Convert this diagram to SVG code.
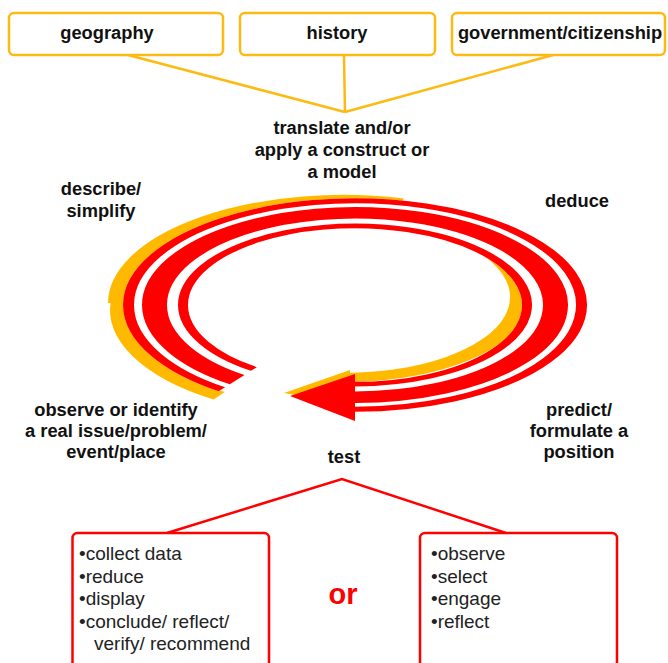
<svg xmlns="http://www.w3.org/2000/svg" width="668" height="663" viewBox="0 0 668 663">
<style>
.lbl{font-family:"Liberation Sans",Arial,sans-serif;font-weight:bold;font-size:18.3px;fill:#111;text-anchor:middle}
.item{font-family:"Liberation Sans",Arial,sans-serif;font-size:19px;fill:#222}
.boxy{fill:#fff;stroke:#FDBA12;stroke-width:2.5}
.boxr{fill:#fff;stroke:#FF0000;stroke-width:2.5}
.yl{stroke:#FDBA12;stroke-width:2.5;fill:none}
.rl{stroke:#FF0000;stroke-width:2.5;fill:none}
.shadow{fill:none;stroke:#FFBA00;stroke-width:20}
.red{fill:none;stroke:#FF0000}
</style>
<rect width="668" height="663" fill="#fff"/>

<g id="connectors">
  <line x1="128" y1="55" x2="345" y2="112" class="yl"/>
  <line x1="344" y1="55" x2="345" y2="112" class="yl"/>
  <line x1="553" y1="55" x2="345" y2="112" class="yl"/>
  <polyline points="167,533 342,479 506,533" class="rl"/>
</g>

<g id="geography">
  <rect x="9" y="13" width="214" height="42" rx="5" class="boxy"/>
  <text x="107" y="39" class="lbl">geography</text>
</g>
<g id="history">
  <rect x="240" y="13" width="195" height="42" rx="5" class="boxy"/>
  <text x="337" y="39" class="lbl">history</text>
</g>
<g id="government">
  <rect x="452" y="13" width="213" height="42" rx="5" class="boxy"/>
  <text x="560" y="39" class="lbl">government/citizenship</text>
</g>

<g id="cycle-arrow">
  <g transform="translate(343,303) scale(1,0.46)">
    <path class="shadow" d="M-225,0 A225,225 0 0 1 58.23,-217.33"/>
  </g>
  <g transform="translate(345,310) scale(1,0.46)">
    <path class="shadow" d="M-125.8,186.5 A225,225 0 0 1 -224.1,-19.6"/>
  </g>
  <g transform="translate(345,297) scale(1,0.46)">
    <path class="shadow" d="M87.5,-151.6 A175,175 0 0 1 0,175"/>
  </g>
  <polygon points="284,393 350,370 350,405" fill="#FFBA00"/>
  <g transform="translate(355,305) scale(1,0.46)">
    <path d="M-117.27,161.4 A199.5,199.5 0 1 1 0,199.5" fill="none" stroke="#fff" stroke-width="65"/>
    <path class="red" stroke-width="11" d="M-133.13,183.24 A226.5,226.5 0 1 1 0,226.5"/>
    <path class="red" stroke-width="25" d="M-117.85,162.21 A200.5,200.5 0 1 1 0,200.5"/>
    <path class="red" stroke-width="10" d="M-101.1,139.15 A172,172 0 1 1 0,172"/>
  </g>
  <polygon points="290,396 355,374 355,421" fill="#FF0000"/>
</g>

<g id="translate">
  <text class="lbl"><tspan x="342" y="134">translate and/or</tspan><tspan x="342" y="156">apply a construct or</tspan><tspan x="342" y="178">a model</tspan></text>
</g>
<g id="describe">
  <text class="lbl"><tspan x="101" y="195">describe/</tspan><tspan x="101" y="217">simplify</tspan></text>
</g>
<g id="deduce">
  <text x="577" y="207" class="lbl">deduce</text>
</g>
<g id="observe">
  <text class="lbl"><tspan x="116" y="416">observe or identify</tspan><tspan x="116" y="437">a real issue/problem/</tspan><tspan x="116" y="458">event/place</tspan></text>
</g>
<g id="predict">
  <text class="lbl"><tspan x="579" y="416">predict/</tspan><tspan x="579" y="437">formulate a</tspan><tspan x="579" y="458">position</tspan></text>
</g>
<g id="test">
  <text x="344" y="463" class="lbl">test</text>
</g>

<g id="method-a">
  <rect x="72.5" y="533" width="196.5" height="150" rx="5" class="boxr"/>
  <text class="item"><tspan x="79" y="560">•collect data</tspan><tspan x="79" y="583">•reduce</tspan><tspan x="79" y="605">•display</tspan><tspan x="79" y="628">•conclude/ reflect/</tspan><tspan x="94" y="650">verify/ recommend</tspan></text>
</g>
<g id="or">
  <text x="343" y="604" font-family="Liberation Sans, Arial, sans-serif" font-weight="bold" font-size="29" fill="#FF0000" text-anchor="middle">or</text>
</g>
<g id="method-b">
  <rect x="420" y="533" width="197" height="150" rx="5" class="boxr"/>
  <text class="item"><tspan x="431" y="560">•observe</tspan><tspan x="431" y="583">•select</tspan><tspan x="431" y="605">•engage</tspan><tspan x="431" y="628">•reflect</tspan></text>
</g>
</svg>
